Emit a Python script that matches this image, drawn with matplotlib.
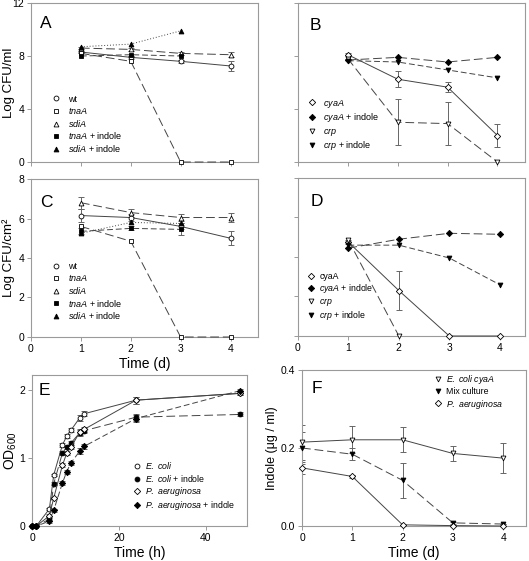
import matplotlib
matplotlib.use("Agg")
import matplotlib.pyplot as plt
from matplotlib.lines import Line2D

plt.rcParams['font.family'] = ['Liberation Sans', 'DejaVu Sans']
plt.rcParams['mathtext.fontset'] = 'custom'
plt.rcParams['mathtext.rm'] = 'Liberation Sans'
plt.rcParams['mathtext.it'] = 'Liberation Sans:italic'

# ---- data ----
days = [1, 2, 3, 4]

A_wt = [8.3, 7.9, 7.6, 7.25]
A_wt_err = [0.1, 0.1, 0.1, 0.4]
A_tnaA = [8.2, 7.6, 0, 0]
A_sdiA = [8.6, 8.5, 8.2, 8.1]
A_sdiA_err = [0.1, 0.1, 0.1, 0.2]
A_tnaA_ind = [8.0, 8.1, 8.0]
A_sdiA_ind = [8.7, 8.9, 9.9]

B_cyaA = [8.1, 6.25, 5.65, 2.0]
B_cyaA_err = [0.1, 0.6, 0.4, 0.9]
B_cyaA_ind = [7.7, 7.9, 7.55, 7.9]
B_crp = [7.8, 3.0, 2.9, 0]
B_crp_err = [0, 1.75, 1.6, 0]
B_crp_ind = [7.65, 7.55, 6.95, 6.35]

C_wt = [6.15, 6.05, 5.6, 5.0]
C_wt_err = [0.35, 0.2, 0.15, 0.35]
C_tnaA = [5.6, 4.85, 0, 0]
C_sdiA = [6.8, 6.3, 6.05, 6.05]
C_sdiA_err = [0.3, 0.2, 0.2, 0.25]
C_tnaA_ind = [5.35, 5.5, 5.45]
C_tnaA_ind_err = [0.15, 0.1, 0.3]
C_sdiA_ind = [5.25, 5.8, 5.75]

D_cyaA = [4.75, 2.3, 0, 0]
D_cyaA_err = [0.1, 1.0, 0, 0]
D_cyaA_ind = [4.45, 4.9, 5.2, 5.15]
D_crp = [4.85, 0]
D_crp_ind = [4.6, 4.6, 3.95, 2.6]

hours = [0, 1, 4, 5, 7, 8, 9, 11, 12, 24, 48]
E_ecoli = [0, 0, 0.25, 0.75, 1.19, 1.32, 1.41, 1.59, 1.65, 1.85, 1.95]
E_ecoli_ind = [0, 0, 0.1, 0.62, 1.07, 1.16, 1.22, 1.37, 1.4, 1.6, 1.64]
E_pa = [0, 0, 0.15, 0.41, 0.89, 1.07, 1.16, 1.38, 1.42, 1.85, 1.95]
E_pa_ind = [0, 0, 0.07, 0.23, 0.63, 0.8, 0.93, 1.1, 1.17, 1.58, 1.99]
E_err = [0, 0, 0.02, 0.02, 0.03, 0.03, 0.03, 0.04, 0.04, 0.05, 0.03]

F_days = [0, 1, 2, 3, 4]
F_cyaA = [0.215, 0.221, 0.221, 0.186, 0.174]
F_cyaA_err = [0.045, 0.035, 0.032, 0.02, 0.038]
F_mix = [0.2, 0.184, 0.117, 0.008, 0.005]
F_mix_err = [0.04, 0.015, 0.045, 0.002, 0.001]
F_pa = [0.149, 0.127, 0.003, 0.001, 0.0]
F_pa_err = [0.015, 0.005, 0, 0, 0]

LC = '#444444'
FRAME = '#9a9a9a'
SOLID = '-'
LONG = (0, (9, 4))
DASH = (0, (6, 3))
DOT = (0, (1, 2))


def series(ax, x, y, marker, filled, ls, err=None, ms=3.5):
    fc = 'black' if filled else 'white'
    if err is not None:
        ax.errorbar(x, y, yerr=err, fmt='none', ecolor='#666666',
                    elinewidth=0.7, capsize=2.5, capthick=0.7, zorder=2)
    ax.plot(x, y, color=LC, lw=0.7, linestyle=ls, marker=marker, ms=ms,
            mfc=fc, mec='black', mew=0.6, zorder=3, clip_on=False)


def style(ax, letter, lx, ly):
    for s in ax.spines.values():
        s.set_color(FRAME)
        s.set_linewidth(0.8)
    ax.tick_params(direction='out', length=3, width=0.7, color=FRAME,
                   labelsize=7.5, pad=2)
    ax.text(lx, ly, letter, transform=ax.transAxes, fontsize=12.5, va='center')


def legend(ax, entries, anchor, fs=6.5, spacing=0.18, textpad=0.8):
    handles = []
    for label, m, filled in entries:
        handles.append(Line2D([], [], linestyle='none', marker=m,
                              ms=3.2 if m == 'D' else 3.5,
                              mfc='black' if filled else 'white',
                              mec='black', mew=0.6, label=label))
    ax.legend(handles=handles, loc='lower left', bbox_to_anchor=anchor,
              frameon=False, fontsize=fs, handlelength=1.0,
              handletextpad=textpad, labelspacing=spacing, borderaxespad=0,
              borderpad=0)


it = lambda s: '$\\mathit{' + s.replace(' ', '\\ ') + '}$'

fig = plt.figure(figsize=(5.29, 5.61), dpi=100)
axA = fig.add_axes([0.0586, 0.7112, 0.429, 0.2834])
axB = fig.add_axes([0.5633, 0.7112, 0.429, 0.2834])
axC = fig.add_axes([0.0586, 0.3993, 0.429, 0.2816])
axD = fig.add_axes([0.5633, 0.4011, 0.429, 0.2816])
axE = fig.add_axes([0.0605, 0.0624, 0.406, 0.2692])
axF = fig.add_axes([0.5709, 0.0624, 0.423, 0.2781])

# A
series(axA, days, A_wt, 'o', False, SOLID, A_wt_err)
series(axA, days, A_tnaA, 's', False, LONG)
series(axA, days, A_sdiA, '^', False, LONG, A_sdiA_err)
series(axA, days[:3], A_tnaA_ind, 's', True, DASH)
series(axA, days[:3], A_sdiA_ind, '^', True, DOT)
axA.set_xlim(0, 4.55)
axA.set_ylim(0, 12)
axA.set_yticks([0, 4, 8, 12])
axA.set_xticks([0, 1, 2, 3, 4])
axA.set_xticklabels([])
axA.set_ylabel('Log CFU/ml', fontsize=9.5)
axA.yaxis.set_label_coords(-0.07, 0.5)
style(axA, 'A', 0.04, 0.87)
legend(axA, [('wt', 'o', False), (it('tnaA'), 's', False), (it('sdiA'), '^', False),
             (it('tnaA') + ' + indole', 's', True), (it('sdiA') + ' + indole', '^', True)],
       (0.09, 0.05))

# B
series(axB, days, B_cyaA, 'D', False, SOLID, B_cyaA_err, ms=3.2)
series(axB, days, B_cyaA_ind, 'D', True, LONG, ms=3.2)
series(axB, days, B_crp, 'v', False, LONG, B_crp_err)
series(axB, days, B_crp_ind, 'v', True, DASH)
axB.set_xlim(0, 4.55)
axB.set_ylim(0, 12)
axB.set_yticks([0, 4, 8, 12])
axB.set_yticklabels([])
axB.set_xticks([0, 1, 2, 3, 4])
axB.set_xticklabels([])
style(axB, 'B', 0.05, 0.86)
legend(axB, [(it('cyaA'), 'D', False), (it('cyaA') + ' + indole', 'D', True),
             (it('crp'), 'v', False), (it('crp') + ' + indole', 'v', True)],
       (0.04, 0.06))

# C
series(axC, days, C_wt, 'o', False, SOLID, C_wt_err)
series(axC, days, C_tnaA, 's', False, LONG)
series(axC, days, C_sdiA, '^', False, LONG, C_sdiA_err)
series(axC, days[:3], C_tnaA_ind, 's', True, DASH, C_tnaA_ind_err)
series(axC, days[:3], C_sdiA_ind, '^', True, DOT)
axC.set_xlim(0, 4.55)
axC.set_ylim(0, 8)
axC.set_yticks([0, 2, 4, 6, 8])
axC.set_xticks([0, 1, 2, 3, 4])
axC.set_ylabel('Log CFU/cm²', fontsize=9.5)
axC.yaxis.set_label_coords(-0.07, 0.5)
axC.set_xlabel('Time (d)', fontsize=10, labelpad=2)
style(axC, 'C', 0.04, 0.85)
legend(axC, [('wt', 'o', False), (it('tnaA'), 's', False), (it('sdiA'), '^', False),
             (it('tnaA') + ' + indole', 's', True), (it('sdiA') + ' + indole', '^', True)],
       (0.09, 0.1))

# D
series(axD, days, D_cyaA, 'D', False, SOLID, D_cyaA_err, ms=3.2)
series(axD, days, D_cyaA_ind, 'D', True, LONG, ms=3.2)
series(axD, days[:2], D_crp, 'v', False, LONG)
series(axD, days, D_crp_ind, 'v', True, DASH)
axD.set_xlim(0, 4.5)
axD.set_ylim(0, 8)
axD.set_yticks([0, 2, 4, 6, 8])
axD.set_yticklabels([])
axD.set_xticks([0, 1, 2, 3, 4])
style(axD, 'D', 0.057, 0.85)
legend(axD, [('cyaA', 'D', False), (it('cyaA') + ' + indole', 'D', True),
             (it('crp'), 'v', False), (it('crp') + ' + indole', 'v', True)],
       (0.04, 0.09), fs=6.3, spacing=0.12, textpad=0.4)

# E
series(axE, hours, E_ecoli, 'o', False, SOLID, E_err)
series(axE, hours, E_ecoli_ind, 'o', True, LONG, E_err)
series(axE, hours, E_pa, 'D', False, SOLID, E_err, ms=3.2)
series(axE, hours, E_pa_ind, 'D', True, DASH, E_err, ms=3.2)
axE.set_xlim(0, 49.5)
axE.set_ylim(0, 2.22)
axE.set_xticks([0, 20, 40])
axE.set_yticks([0, 1, 2])
axE.set_xlabel('Time (h)', fontsize=10, labelpad=2)
axE.set_ylabel('OD$_{600}$', fontsize=10)
axE.yaxis.set_label_coords(-0.06, 0.5)
style(axE, 'E', 0.03, 0.9)
legend(axE, [(it('E. coli'), 'o', False), (it('E. coli') + ' + indole', 'o', True),
             (it('P. aeruginosa'), 'D', False), (it('P. aeruginosa') + ' + indole', 'D', True)],
       (0.47, 0.09), fs=6.3, spacing=0.15, textpad=0.4)

# F
series(axF, F_days, F_cyaA, 'v', False, SOLID, F_cyaA_err)
series(axF, F_days, F_mix, 'v', True, LONG, F_mix_err)
series(axF, F_days, F_pa, 'D', False, SOLID, F_pa_err, ms=3.2)
axF.set_xlim(0, 4.45)
axF.set_ylim(0, 0.4)
axF.set_xticks([0, 1, 2, 3, 4])
axF.set_yticks([0.0, 0.2, 0.4])
axF.set_yticklabels(['0.0', '0.2', '0.4'])
axF.set_xlabel('Time (d)', fontsize=10, labelpad=2)
axF.set_ylabel('Indole (μg / ml)', fontsize=9, labelpad=2)
style(axF, 'F', 0.045, 0.88)
legend(axF, [(it('E. coli cyaA'), 'v', False), ('Mix culture', 'v', True),
             (it('P. aeruginosa'), 'D', False)],
       (0.59, 0.74), fs=6.3, spacing=0.15, textpad=0.4)

fig.savefig('out.png', dpi=100)
